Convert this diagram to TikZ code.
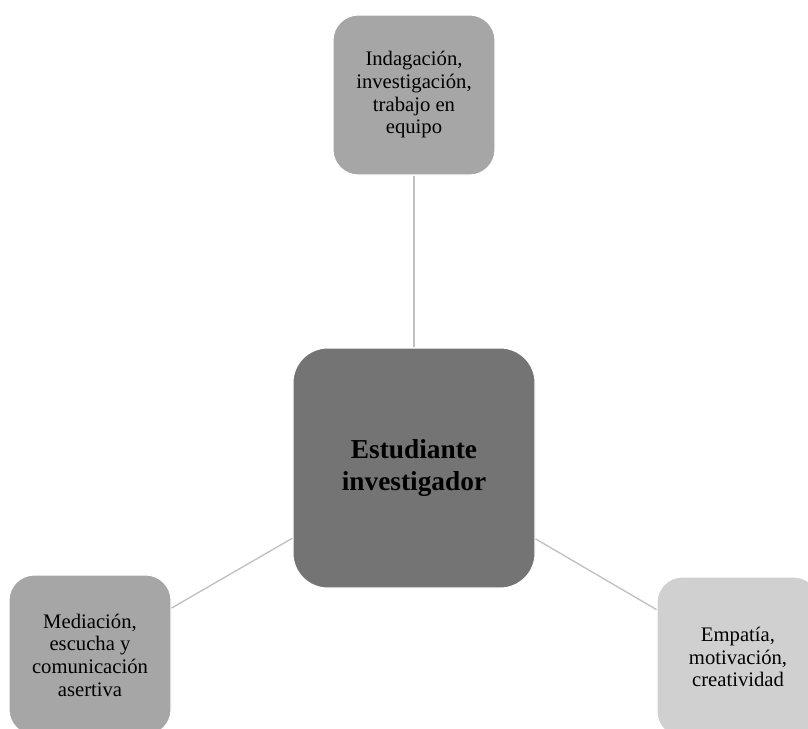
\documentclass[tikz,border=0pt]{standalone}
\usepackage{fontspec}
\setmainfont{Liberation Serif}

\definecolor{boxgray}{HTML}{A6A6A6}
\definecolor{boxdark}{HTML}{747474}
\definecolor{boxlight}{HTML}{D0D0D0}
\definecolor{linegray}{HTML}{C0C0C0}

\tikzset{
    smallbox/.style={draw=white, line width=0.8pt, rounded corners=19pt,
        minimum width=121.5pt, minimum height=120pt, align=center,
        font=\fontsize{15.5}{17}\selectfont, inner sep=0pt},
    bigbox/.style={draw=white, line width=0.8pt, rounded corners=26pt,
        fill=boxdark, minimum width=181.5pt, minimum height=180pt,
        align=center, font=\fontsize{20.5}{24}\selectfont\bfseries, inner sep=0pt},
    link/.style={draw=linegray, line width=1pt}
}

\begin{document}
\begin{tikzpicture}[x=0.75pt, y=-0.75pt]

    % the page: 808 x 729 px
    \useasboundingbox (0,0) rectangle (808,729);
    \clip (0,0) rectangle (808,729);

    % the centre box
    \node[bigbox] (estudiante) at (414,468) {Estudiante\\investigador};

    % the box above the centre
    \node[smallbox, fill=boxgray] (indagacion) at (414,95)
        {Indagación,\\investigación,\\trabajo en\\equipo};

    % the box at the bottom left
    \node[smallbox, fill=boxgray] (mediacion) at (90,655)
        {Mediación,\\escucha y\\comunicación\\asertiva};

    % the box at the bottom right
    \node[smallbox, fill=boxlight] (empatia) at (738,657)
        {Empatía,\\motivación,\\creatividad};

    % lines from the centre box
    \draw[link] (estudiante) -- (indagacion);
    \draw[link] (estudiante) -- (mediacion);
    \draw[link] (estudiante) -- (empatia);
\end{tikzpicture}
\end{document}
